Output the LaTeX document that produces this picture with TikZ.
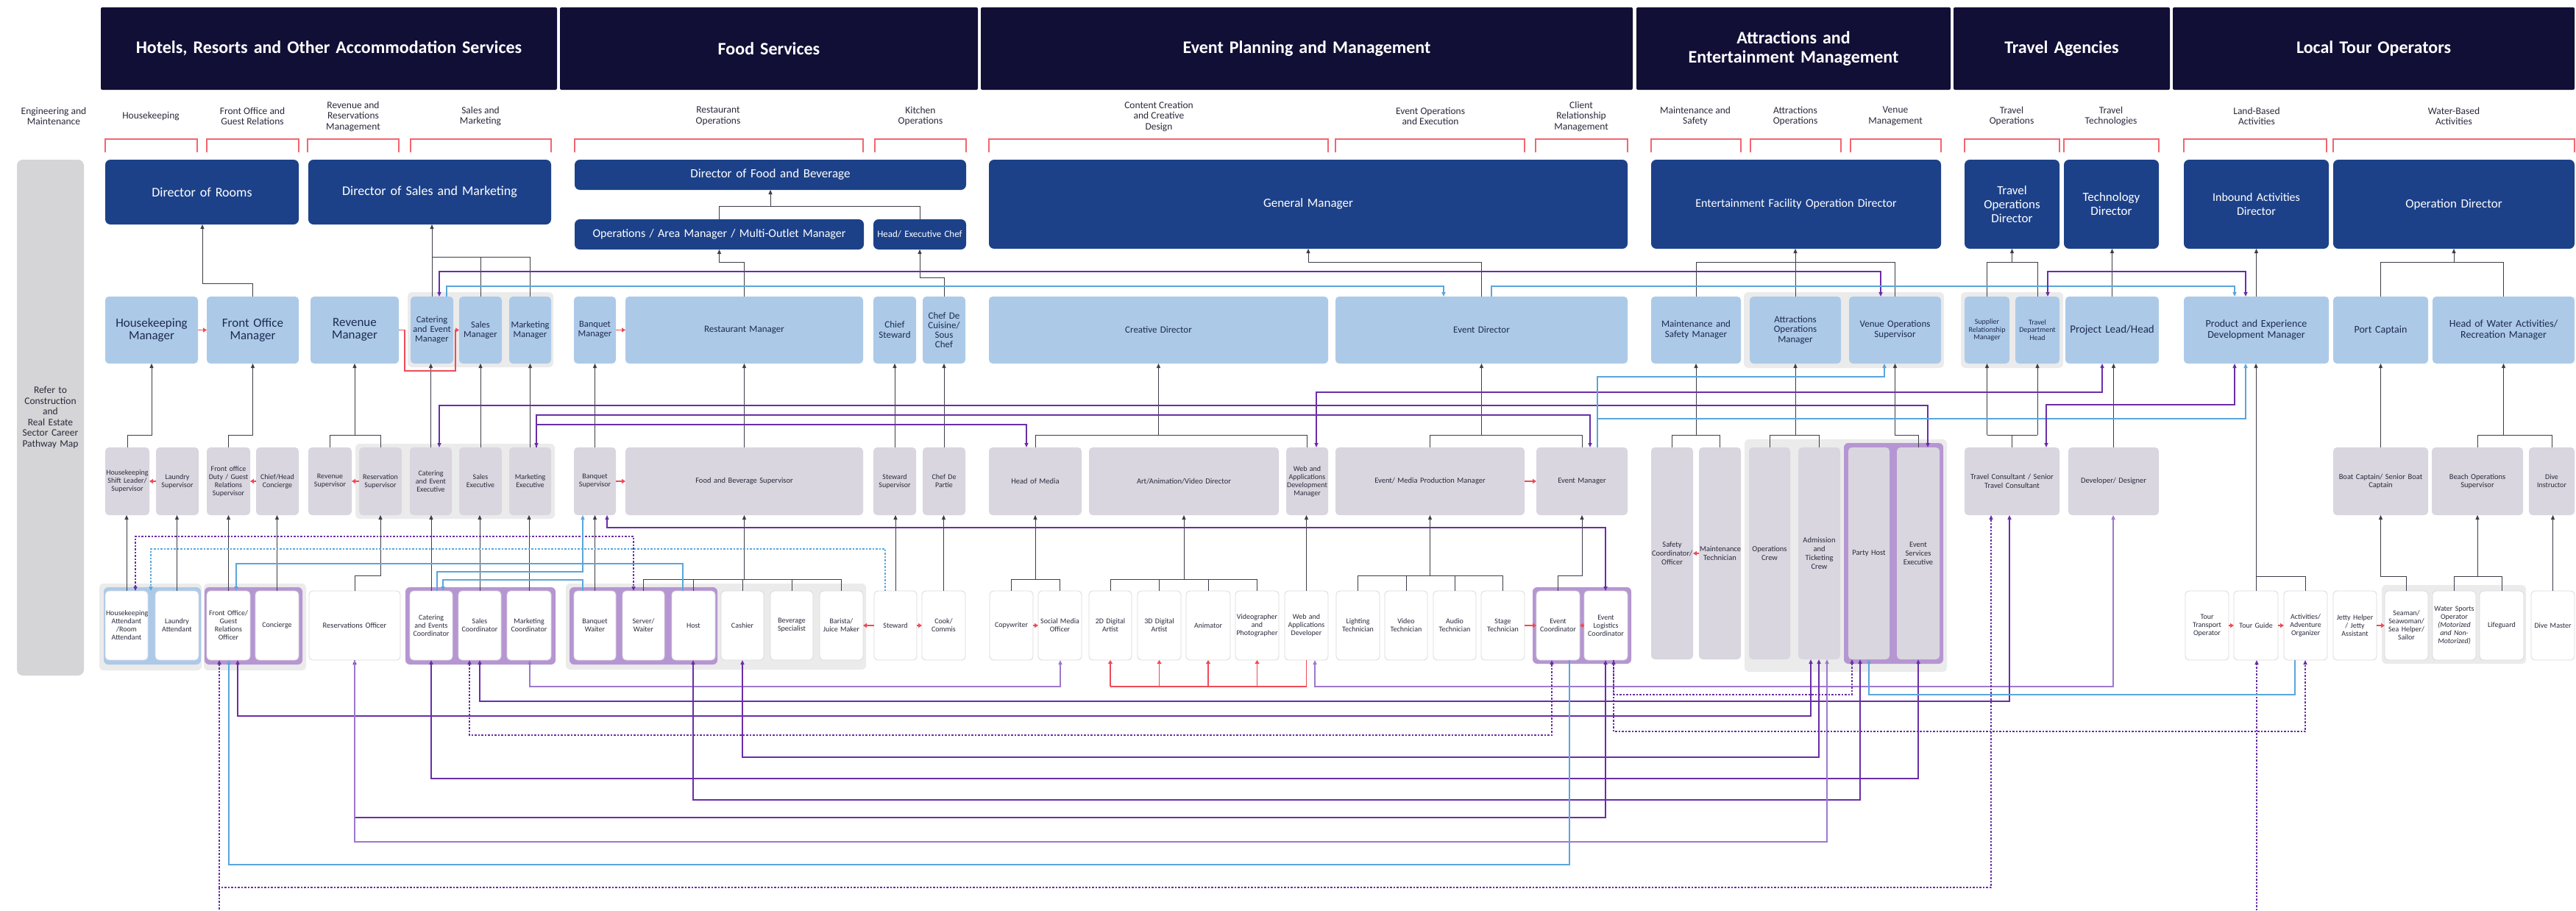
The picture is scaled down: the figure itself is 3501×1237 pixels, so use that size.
\documentclass[tikz,border=0pt]{standalone}
\usepackage{fontspec}
\setmainfont{Carlito}
\usetikzlibrary{arrows.meta}
\definecolor{hdr}{HTML}{110F36}
\definecolor{dirc}{HTML}{1C4189}
\definecolor{mgrc}{HTML}{ACCAE8}
\definecolor{supc}{HTML}{D9D6DF}
\definecolor{grpc}{HTML}{EBEBEB}
\definecolor{purg}{HTML}{B696D2}
\definecolor{barc}{HTML}{D5D5D7}
\definecolor{stfb}{HTML}{D8D8DC}
\definecolor{mtxt}{HTML}{1E2A52}
\definecolor{stxt}{HTML}{2A2A3C}
\definecolor{dkc}{HTML}{3D3D47}
\definecolor{puc}{HTML}{6A2EA8}
\definecolor{plc}{HTML}{9E78CC}
\definecolor{buc}{HTML}{5AA6DC}
\definecolor{rdc}{HTML}{EE4B57}
\newcommand\fs[2]{\fontsize{#1}{#2}\selectfont}
\newcommand\BX[7]{%
 \pgfmathsetmacro\bxw{#5-#3}%
 \pgfmathsetmacro\bxh{#6-#4}%
 \pgfmathsetmacro\bxtw{#5-#3-2}%
 \pgfmathsetmacro\bxcx{(#3+#5)/2}%
 \pgfmathsetmacro\bxcy{(#4+#6)/2}%
 \node[#1, minimum width=\bxw pt, minimum height=\bxh pt, text width=\bxtw pt] (#2) at (\bxcx,\bxcy) {#7};}
\tikzset{
 bx/.style={rounded corners=5pt, inner sep=1pt, align=center, outer sep=0pt},
 hd/.style={bx, rounded corners=2pt, fill=hdr, text=white, font={\bfseries\fs{24}{26}}},
 dir/.style={bx, rounded corners=7pt, fill=dirc, text=white},
 mgr/.style={bx, fill=mgrc, text=mtxt},
 sup/.style={bx, fill=supc, text=stxt, font={\fs{10}{11}}},
 stf/.style={bx, fill=white, draw=stfb, line width=0.8pt, text=stxt, font={\fs{10}{11}}},
 bar/.style={bx, rounded corners=8pt, fill=barc, text=stxt, font={\fs{13.5}{14.5}}},
 cat/.style={align=center, text=stxt, font={\fs{13.5}{14.5}}, inner sep=1pt},
 brk/.style={draw=rdc!85, line width=1.2pt},
 >={Triangle[length=6pt,width=5pt]},
 dk/.style={draw=dkc, line width=1pt},
 pu/.style={draw=puc, line width=1.4pt},
 pl/.style={draw=plc, line width=1.4pt},
 bu/.style={draw=buc, line width=1.4pt},
 pd/.style={draw=puc, line width=1.3pt, dash pattern=on 2.5pt off 2pt},
 bd/.style={draw=buc, line width=1.3pt, dash pattern=on 2.5pt off 2pt},
 rd/.style={draw=rdc, line width=1.3pt, >={Triangle[length=5pt,width=6pt]}},
}
\begin{document}
\begin{tikzpicture}[x=1pt,y=-1pt]
\useasboundingbox (0,0) rectangle (3501,1237);
\fill[white] (0,0) rectangle (3501,1237);
% headers
\BX{hd}{h1}{137}{10}{757}{122}{Hotels, Resorts and Other Accommodation Services}
\BX{hd}{h2}{761}{10}{1329}{122}{Food Services}
\BX{hd}{h3}{1333}{10}{2219}{122}{Event Planning and Management}
\BX{hd}{h4}{2224}{10}{2651}{122}{Attractions and\\Entertainment Management}
\BX{hd}{h5}{2655}{10}{2949}{122}{Travel Agencies}
\BX{hd}{h6}{2953}{10}{3499}{122}{Local Tour Operators}
% category labels
\node[cat] (c1) at (73,158) {Engineering and\\Maintenance};
\node[cat] (c2) at (205,158) {Housekeeping};
\node[cat] (c3) at (343,158) {Front Office and\\Guest Relations};
\node[cat] (c4) at (480,158) {Revenue and\\Reservations\\Management};
\node[cat] (c5) at (653,158) {Sales and\\Marketing};
\node[cat] (c6) at (976,158) {Restaurant\\Operations};
\node[cat] (c7) at (1251,158) {Kitchen\\Operations};
\node[cat] (c8) at (1575,158) {Content Creation\\and Creative\\Design};
\node[cat] (c9) at (1944,158) {Event Operations\\and Execution};
\node[cat] (c10) at (2149,158) {Client\\Relationship\\Management};
\node[cat] (c11) at (2304,158) {Maintenance and\\Safety};
\node[cat] (c12) at (2440,158) {Attractions\\Operations};
\node[cat] (c13) at (2576,158) {Venue\\Management};
\node[cat] (c14) at (2734,158) {Travel\\Operations};
\node[cat] (c15) at (2869,158) {Travel\\Technologies};
\node[cat] (c16) at (3067,158) {Land-Based\\Activities};
\node[cat] (c17) at (3335,158) {Water-Based\\Activities};
% brackets
\foreach \a/\b in {143/268, 281/406, 418/542, 558/749, 781/1173, 1189/1313, 1344/1805, 1815/2072, 2087/2212, 2244/2366, 2379/2502, 2515/2638, 2670/2799, 2805/2934, 2968/3162, 3171/3499}
  \draw[brk] (\a,207) |- (\b,189) -- (\b,207);
% group backgrounds
\fill[grpc, rounded corners=6pt] (554,397) rectangle (752,499);
\fill[grpc, rounded corners=6pt] (2370,397) rectangle (2642,500);
\fill[grpc, rounded corners=6pt] (2665,397) rectangle (2804,500);
\fill[grpc, rounded corners=6pt] (483,603) rectangle (754,705);
\fill[grpc, rounded corners=6pt] (2371,597) rectangle (2646,913);
\fill[purg, rounded corners=6pt] (2506,602) rectangle (2641,902);
\fill[grpc, rounded corners=6pt] (135,793) rectangle (274,911);
\fill[mgrc, rounded corners=6pt] (141,798) rectangle (273,903);
\fill[grpc, rounded corners=6pt] (277,793) rectangle (416,911);
\fill[purg, rounded corners=6pt] (278,798) rectangle (411,903);
\fill[purg, rounded corners=6pt] (551,798) rectangle (755,903);
\fill[grpc, rounded corners=6pt] (769,793) rectangle (1177,910);
\fill[purg, rounded corners=6pt] (774,798) rectangle (975,903);
\fill[purg, rounded corners=6pt] (2083,798) rectangle (2217,902);
\fill[grpc, rounded corners=6pt] (3237,795) rectangle (3433,902);
% left bar
\BX{bar}{refer}{23}{217}{114}{918}{Refer to\\Construction\\and\\Real Estate\\Sector Career\\Pathway Map}
% directors
\BX{dir,font={\fs{18}{21}}}{dRooms}{143}{217}{406}{305}{Director of Rooms}
\BX{dir,font={\fs{18}{21}}}{dSales}{419}{217}{749}{305}{Director of Sales and Marketing}
\BX{dir,font={\fs{17}{20}}}{dFB}{781}{217}{1313}{258}{Director of Food and Beverage}
\BX{dir,font={\fs{16}{19}}}{dOps}{781}{298}{1174}{339}{Operations / Area Manager / Multi-Outlet Manager}
\BX{dir,font={\fs{13}{15}}}{dChef}{1187}{298}{1313}{339}{Head/ Executive Chef}
\BX{dir,font={\fs{17}{20}}}{dGM}{1344}{217}{2212}{338}{General Manager}
\BX{dir,font={\fs{16}{19}}}{dEnt}{2244}{217}{2638}{338}{Entertainment Facility Operation Director}
\BX{dir,font={\fs{17}{19}}}{dTravel}{2670}{217}{2799}{338}{Travel\\Operations\\Director}
\BX{dir,font={\fs{17}{19}}}{dTech}{2805}{217}{2934}{338}{Technology\\Director}
\BX{dir,font={\fs{16}{19}}}{dInb}{2968}{217}{3165}{338}{Inbound Activities\\Director}
\BX{dir,font={\fs{17}{19}}}{dOpd}{3171}{217}{3499}{338}{Operation Director}
% managers
\BX{mgr,font={\fs{17}{17}}}{mHK}{143}{403}{269}{494}{Housekeeping\\Manager}
\BX{mgr,font={\fs{17}{17}}}{mFO}{281}{403}{406}{494}{Front Office\\Manager}
\BX{mgr,font={\fs{17}{17}}}{mRev}{422}{403}{542}{494}{Revenue\\Manager}
\BX{mgr,font={\fs{12.5}{13}}}{mCat}{558}{403}{616}{494}{Catering\\and Event\\Manager}
\BX{mgr,font={\fs{12.5}{13}}}{mSal}{624}{403}{682}{494}{Sales\\Manager}
\BX{mgr,font={\fs{12.5}{13}}}{mMkt}{692}{403}{749}{494}{Marketing\\Manager}
\BX{mgr,font={\fs{12.5}{13}}}{mBq}{780}{403}{837}{494}{Banquet\\Manager}
\BX{mgr,font={\fs{13}{14}}}{mRest}{850}{403}{1173}{494}{Restaurant Manager}
\BX{mgr,font={\fs{13}{14}}}{mCS}{1187}{403}{1245}{494}{Chief\\Steward}
\BX{mgr,font={\fs{13}{13}}}{mCDC}{1254}{403}{1312}{494}{Chef De\\Cuisine/\\Sous\\Chef}
\BX{mgr,font={\fs{13}{14}}}{mCreat}{1344}{403}{1805}{494}{Creative Director}
\BX{mgr,font={\fs{13}{14}}}{mEvD}{1815}{403}{2212}{494}{Event Director}
\BX{mgr,font={\fs{13}{14}}}{mMS}{2244}{403}{2366}{494}{Maintenance and\\Safety Manager}
\BX{mgr,font={\fs{13}{13.5}}}{mAtt}{2378}{403}{2502}{494}{Attractions\\Operations\\Manager}
\BX{mgr,font={\fs{13}{14}}}{mVen}{2513}{403}{2638}{494}{Venue Operations\\Supervisor}
\BX{mgr,font={\fs{10}{10.5}}}{mSup}{2670}{403}{2731}{494}{Supplier\\Relationship\\Manager}
\BX{mgr,font={\fs{10}{10.5}}}{mTDH}{2739}{403}{2799}{494}{Travel\\Department\\Head}
\BX{mgr,font={\fs{15}{16}}}{mPL}{2807}{403}{2934}{494}{Project Lead/Head}
\BX{mgr,font={\fs{14}{15}}}{mPED}{2968}{403}{3165}{494}{Product and Experience\\Development Manager}
\BX{mgr,font={\fs{14}{15}}}{mPort}{3171}{403}{3300}{494}{Port Captain}
\BX{mgr,font={\fs{14}{15}}}{mWat}{3306}{403}{3499}{494}{Head of Water Activities/\\Recreation Manager}
% supervisors
\BX{sup}{sHK}{143}{608}{203}{700}{Housekeeping\\Shift Leader/\\Supervisor}
\BX{sup}{sLau}{212}{608}{270}{700}{Laundry\\Supervisor}
\BX{sup}{sFO}{281}{608}{340}{700}{Front office\\Duty / Guest\\Relations\\Supervisor}
\BX{sup}{sCon}{348}{608}{406}{700}{Chief/Head\\Concierge}
\BX{sup}{sRev}{419}{608}{478}{700}{Revenue\\Supervisor}
\BX{sup}{sRes}{488}{608}{546}{700}{Reservation\\Supervisor}
\BX{sup}{sCat}{557}{608}{614}{700}{Catering\\and Event\\Executive}
\BX{sup}{sSal}{624}{608}{682}{700}{Sales\\Executive}
\BX{sup}{sMkt}{692}{608}{749}{700}{Marketing\\Executive}
\BX{sup}{sBq}{780}{608}{837}{700}{Banquet\\Supervisor}
\BX{sup,font={\fs{10.5}{11.5}}}{sFB}{850}{608}{1173}{700}{Food and Beverage Supervisor}
\BX{sup}{sStw}{1187}{608}{1245}{700}{Steward\\Supervisor}
\BX{sup}{sCDP}{1254}{608}{1312}{700}{Chef De\\Partie}
\BX{sup,font={\fs{10.5}{11.5}}}{sMed}{1344}{608}{1470}{700}{Head of Media}
\BX{sup,font={\fs{10.5}{11.5}}}{sArt}{1480}{608}{1738}{700}{Art/Animation/Video Director}
\BX{sup}{sWeb}{1748}{608}{1805}{700}{Web and\\Applications\\Development\\Manager}
\BX{sup,font={\fs{10.5}{11.5}}}{sEMP}{1815}{608}{2072}{700}{Event/ Media Production Manager}
\BX{sup,font={\fs{10.5}{11.5}}}{sEvM}{2088}{608}{2212}{700}{Event Manager}
\BX{sup,font={\fs{10.5}{12}}}{sSaf}{2244}{608}{2301}{896}{Safety\\Coordinator/\\Officer}
\BX{sup,font={\fs{10.5}{12}}}{sMT}{2309}{608}{2366}{896}{Maintenance\\Technician}
\BX{sup,font={\fs{10.5}{12}}}{sOC}{2377}{608}{2433}{896}{Operations\\Crew}
\BX{sup,font={\fs{10.5}{12}}}{sAdm}{2444}{608}{2501}{896}{Admission\\and\\Ticketing\\Crew}
\BX{sup,font={\fs{10.5}{12}}}{sPH}{2512}{608}{2568}{896}{Party Host}
\BX{sup,font={\fs{10.5}{12}}}{sES}{2578}{608}{2636}{896}{Event\\Services\\Executive}
\BX{sup,font={\fs{10.5}{11.5}}}{sTC}{2670}{608}{2799}{700}{Travel Consultant / Senior\\Travel Consultant}
\BX{sup,font={\fs{10.5}{11.5}}}{sDev}{2811}{608}{2934}{700}{Developer/ Designer}
\BX{sup,font={\fs{10.5}{11.5}}}{sBoat}{3171}{608}{3300}{700}{Boat Captain/ Senior Boat\\Captain}
\BX{sup,font={\fs{10.5}{11.5}}}{sBeach}{3305}{608}{3429}{700}{Beach Operations\\Supervisor}
\BX{sup}{sDive}{3437}{608}{3499}{700}{Dive\\Instructor}
% staff
\BX{stf}{tHK}{143}{803}{201}{897}{Housekeeping\\Attendant\\/Room\\Attendant}
\BX{stf}{tLau}{211}{803}{270}{897}{Laundry\\Attendant}
\BX{stf}{tFO}{281}{803}{340}{897}{Front Office/\\Guest\\Relations\\Officer}
\BX{stf}{tCon}{347}{803}{406}{897}{Concierge}
\BX{stf,font={\fs{10.5}{11.5}}}{tRes}{420}{803}{544}{897}{Reservations Officer}
\BX{stf}{tCat}{557}{803}{615}{897}{Catering\\and Events\\Coordinator}
\BX{stf}{tSal}{623}{803}{681}{897}{Sales\\Coordinator}
\BX{stf}{tMkt}{689}{803}{749}{897}{Marketing\\Coordinator}
\BX{stf}{tBq}{780}{803}{837}{897}{Banquet\\Waiter}
\BX{stf}{tSrv}{846}{803}{903}{897}{Server/\\Waiter}
\BX{stf}{tHost}{913}{803}{972}{897}{Host}
\BX{stf}{tCash}{980}{803}{1038}{897}{Cashier}
\BX{stf}{tBev}{1047}{803}{1105}{897}{Beverage\\Specialist}
\BX{stf}{tBar}{1114}{803}{1173}{897}{Barista/\\Juice Maker}
\BX{stf}{tStw}{1188}{803}{1246}{897}{Steward}
\BX{stf}{tCook}{1253}{803}{1312}{897}{Cook/\\Commis}
\BX{stf}{tCopy}{1345}{803}{1404}{897}{Copywriter}
\BX{stf}{tSoc}{1411}{803}{1470}{897}{Social Media\\Officer}
\BX{stf}{t2D}{1480}{803}{1538}{897}{2D Digital\\Artist}
\BX{stf}{t3D}{1546}{803}{1605}{897}{3D Digital\\Artist}
\BX{stf}{tAnim}{1612}{803}{1672}{897}{Animator}
\BX{stf}{tVid}{1679}{803}{1738}{897}{Videographer\\and\\Photographer}
\BX{stf}{tWeb}{1746}{803}{1805}{897}{Web and\\Applications\\Developer}
\BX{stf}{tLight}{1816}{803}{1875}{897}{Lighting\\Technician}
\BX{stf}{tVidT}{1882}{803}{1940}{897}{Video\\Technician}
\BX{stf}{tAud}{1948}{803}{2006}{897}{Audio\\Technician}
\BX{stf}{tStage}{2013}{803}{2072}{897}{Stage\\Technician}
\BX{stf}{tEC}{2088}{803}{2147}{897}{Event\\Coordinator}
\BX{stf}{tELC}{2153}{803}{2212}{897}{Event\\Logistics\\Coordinator}
\BX{stf}{tTT}{2970}{803}{3029}{897}{Tour\\Transport\\Operator}
\BX{stf}{tTG}{3036}{803}{3096}{897}{Tour Guide}
\BX{stf}{tAct}{3104}{803}{3163}{897}{Activities/\\Adventure\\Organizer}
\BX{stf}{tJet}{3171}{803}{3230}{897}{Jetty Helper\\/ Jetty\\Assistant}
\BX{stf}{tSea}{3241}{803}{3300}{897}{Seaman/\\Seawoman/\\Sea Helper/\\Sailor}
\BX{stf}{tWS}{3306}{803}{3365}{897}{Water Sports\\Operator\\\textit{(Motorized}\\\textit{and Non-}\\\textit{Motorized)}}
\BX{stf}{tLife}{3370}{803}{3430}{897}{Lifeguard}
\BX{stf}{tDM}{3440}{803}{3499}{897}{Dive Master}
\coordinate (botL) at (298,1237);
\coordinate (botR) at (3067,1237);
% ---- dark connectors: managers -> directors
\draw[dk,->] (mFO.north) |- (275,385) -- (275,0 |- dRooms.south);
\draw[dk] (mSal.north) |- (mCat.north |- 0,349);
\draw[dk] (mMkt.north) |- (mSal.north |- 0,349);
\draw[dk,->] (mCat.north) -- (mCat.north |- dSales.south);
\draw[dk] (dOps.north) |- (dChef.north |- 0,280) -- (dChef.north);
\draw[dk,->] (dFB.south |- 0,280) -- (dFB.south);
\draw[dk,->] (mRest.north) |- (dOps.south |- 0,356) -- (dOps.south);
\draw[dk,->] (mCDC.north) |- (dChef.south |- 0,377) -- (dChef.south);
\draw[dk,->] (mEvD.north) |- (1778,356) -- (1778,0 |- dGM.south);
\draw[dk] (mMS.north) |- (mVen.north |- 0,356) -- (mVen.north);
\draw[dk,->] (mAtt.north) -- (mAtt.north |- dEnt.south);
\draw[dk] (mSup.north) |- (mTDH.north |- 0,356) -- (mTDH.north);
\draw[dk,->] (dTravel.south |- 0,356) -- (dTravel.south);
\draw[dk,->] (mPL.north) -- (mPL.north |- dTech.south);
\draw[dk,->] (mPED.north) -- (mPED.north |- dInb.south);
\draw[dk] (mPort.north) |- (mWat.north |- 0,356) -- (mWat.north);
\draw[dk,->] (dOpd.south |- 0,356) -- (dOpd.south);
% supervisors -> managers
\draw[dk,->] (sHK.north) |- (mHK.south |- 0,591) -- (mHK.south);
\draw[dk,->] (sFO.north) |- (mFO.south |- 0,591) -- (mFO.south);
\draw[dk] (sRev.north) |- (sRes.north |- 0,591) -- (sRes.north);
\draw[dk,->] (mRev.south |- 0,591) -- (mRev.south);
\draw[dk,->] (sCat.north) -- (sCat.north |- mCat.south);
\draw[dk,->] (sSal.north) -- (sSal.north |- mSal.south);
\draw[dk,->] (sMkt.north) -- (sMkt.north |- mMkt.south);
\draw[dk,->] (sBq.north) -- (sBq.north |- mBq.south);
\draw[dk,->] (sFB.north) -- (sFB.north |- mRest.south);
\draw[dk,->] (sStw.north) -- (sStw.north |- mCS.south);
\draw[dk,->] (sCDP.north) -- (sCDP.north |- mCDC.south);
\draw[dk] (sMed.north) |- (sWeb.north |- 0,591) -- (sWeb.north);
\draw[dk,->] (mCreat.south |- 0,591) -- (mCreat.south);
\draw[dk] (sEMP.north) |- (sEvM.north |- 0,591) -- (sEvM.north);
\draw[dk,->] (mEvD.south |- 0,591) -- (mEvD.south);
\draw[dk] (sSaf.north) |- (sMT.north |- 0,591) -- (sMT.north);
\draw[dk,->] (mMS.south |- 0,591) -- (mMS.south);
\draw[dk] (sOC.north) |- (sAdm.north |- 0,591) -- (sAdm.north);
\draw[dk,->] (mAtt.south |- 0,591) -- (mAtt.south);
\draw[dk,->] (sES.north) |- (mVen.south |- 0,591) -- (mVen.south);
\draw[dk] (sTC.north) -- (sTC.north |- 0,591);
\draw[dk] (mSup.south |- 0,591) -- (mTDH.south |- 0,591);
\draw[dk,->] (mSup.south |- 0,591) -- (mSup.south);
\draw[dk,->] (mTDH.south |- 0,591) -- (mTDH.south);
\draw[dk,->] (sDev.north) -- (sDev.north |- mPL.south);
\draw[dk,->] (sBoat.north) -- (sBoat.north |- mPort.south);
\draw[dk] (sBeach.north) |- (sDive.north |- 0,591) -- (sDive.north);
\draw[dk,->] (mWat.south |- 0,591) -- (mWat.south);
% staff -> supervisors
\foreach \a/\b in {tHK/sHK, tLau/sLau, tFO/sFO, tCon/sCon, tCat/sCat, tSal/sSal, tMkt/sMkt, tBq/sBq, tStw/sStw, tCook/sCDP, tWeb/sWeb, tDM/sDive}
  \draw[dk,->] (\a.north) -- (\a.north |- \b.south);
\draw[dk,->] (tRes.north) |- (sRes.south |- 0,782) -- (sRes.south);
\draw[dk] (tSrv.north) |- (tBar.north |- 0,787) -- (tBar.north);
\foreach \a in {tHost,tCash,tBev} \draw[dk] (\a.north) -- (\a.north |- 0,787);
\draw[dk,->] (sFB.south |- 0,787) -- (sFB.south);
\draw[dk] (tCopy.north) |- (tSoc.north |- 0,787) -- (tSoc.north);
\draw[dk,->] (sMed.south |- 0,787) -- (sMed.south);
\draw[dk] (t2D.north) |- (tVid.north |- 0,787) -- (tVid.north);
\foreach \a in {t3D,tAnim} \draw[dk] (\a.north) -- (\a.north |- 0,787);
\draw[dk,->] (sArt.south |- 0,787) -- (sArt.south);
\draw[dk] (tLight.north) |- (tStage.north |- 0,782) -- (tStage.north);
\foreach \a in {tVidT,tAud} \draw[dk] (\a.north) -- (\a.north |- 0,782);
\draw[dk,->] (sEMP.south |- 0,782) -- (sEMP.south);
\draw[dk,->] (tEC.north) |- (sEvM.south |- 0,782) -- (sEvM.south);
\draw[dk] (tAct.north) |- (tTG.north |- 0,783);
\draw[dk,->] (tTG.north) -- (tTG.north |- mPED.south);
\draw[dk,->] (tSea.north) |- (sBoat.south |- 0,783) -- (sBoat.south);
\draw[dk] (tWS.north) |- (tLife.north |- 0,783) -- (tLife.north);
\draw[dk,->] (sBeach.south |- 0,783) -- (sBeach.south);
% red lateral arrows
\draw[rd,->] (mHK.east) -- (mFO.west);
\draw[rd,->] (mRev.east) -- (550,0 |- mRev.east) -- (550,504) -- (619,504) -- (619,0 |- mSal.west) -- (mSal.west);
\draw[rd,->] (mBq.east) -- (mRest.west);
\draw[rd,->] (sLau.west) -- (sHK.east);
\draw[rd,->] (sCon.west) -- (sFO.east);
\draw[rd,->] (sRes.west) -- (sRev.east);
\draw[rd,->] (sBq.east) -- (sFB.west);
\draw[rd,->] (sEMP.east) -- (sEvM.west);
\draw[rd,->] (sMT.west) -- (sSaf.east);
\draw[rd,->] (tStw.west) -- (tBar.east);
\draw[rd,->] (tStw.east) -- (tCook.west);
\draw[rd,->] (tCopy.east) -- (tSoc.west);
\draw[rd,->] (tStage.east) -- (tEC.west);
\draw[rd,->] (tELC.west) -- (tEC.east);
\draw[rd,->] (tTT.east) -- (tTG.west);
\draw[rd,->] (tTG.east) -- (tAct.west);
\draw[rd,->] (tJet.east) -- (tSea.west);
\draw[rd] (tWeb.south) -- (tWeb.south |- 0,933) -- (t2D.south |- 0,933);
\foreach \a in {t2D,t3D,tAnim,tVid} \draw[rd,->] (\a.south |- 0,933) -- (\a.south);
% purple and blue links, top band
\draw[pu,<->] (597,0 |- mCat.north) |- (2556,369) -- (2556,0 |- mVen.north);
\draw[bu,->] (607,0 |- mCat.north) |- (1962,389) -- (1962,0 |- mEvD.north);
\draw[bu,->] (2027,0 |- mEvD.north) |- (3037,389) -- (3037,0 |- mPED.north);
\draw[pu,<->] (2783,0 |- mTDH.north) |- (3052,369) -- (3052,0 |- mPED.north);
% manager/supervisor band
\draw[pu,<->] (597,0 |- sCat.north) |- (2620,551) -- (2620,0 |- sES.north);
\draw[pu,<->] (1789,0 |- sWeb.north) |- (2857,533) -- (2857,0 |- mPL.south);
\draw[pu,<->] (729,0 |- sMkt.north) |- (2161,564) -- (2161,0 |- sEvM.north);
\draw[pu,->] (729,0 |- sMkt.north) |- (1395,577) -- (1395,0 |- sMed.north);
\draw[bu,->] (2171,0 |- sEvM.north) |- (2561,512) -- (2561,0 |- mVen.south);
\draw[bu,->] (2171,0 |- sEvM.north) |- (3052,569) -- (3052,0 |- mPED.south);
\draw[pu,<->] (2781,0 |- sTC.north) |- (3037,550) -- (3037,0 |- mPED.south);
% supervisor/staff band
\draw[pu,<->] (825,0 |- sBq.south) |- (2182,717) -- (2182,0 |- tELC.north);
\draw[pd,<->] (184,0 |- tHK.north) |- (861,729) -- (861,0 |- tSrv.north);
\draw[bd,->] (1203,0 |- tStw.north) |- (205,746) -- (205,0 |- tHK.north);
\draw[bu,->] (928,0 |- tHost.north) |- (321,766) -- (321,0 |- tFO.north);
\draw[bu,->] (594,0 |- tCat.north) |- (792,777) -- (792,0 |- sBq.south);
\draw[bu,->] (792,0 |- tBq.north) |- (602,788) -- (602,0 |- tCat.north);
% bottom band
\draw[pl,<->] (720,0 |- tMkt.south) |- (1441,933) -- (1441,0 |- tSoc.south);
\draw[pl,<->] (1787,0 |- tWeb.south) |- (2872,933) -- (2872,0 |- sDev.south);
\draw[pu,<->] (652,0 |- tSal.south) |- (2731,953) -- (2731,0 |- sTC.south);
\draw[pu,<->] (323,0 |- tFO.south) |- (2461,973) -- (2461,0 |- sAdm.south);
\draw[pd,<->] (638,0 |- tSal.south) |- (2109,999) -- (2109,0 |- tEC.south);
\draw[pu,<->] (tCash.south) |- (2472,1029) -- (2472,0 |- sAdm.south);
\draw[pu,<->] (586,0 |- tCat.south) |- (2607,1058) -- (2607,0 |- sES.south);
\draw[pu,<->] (942,0 |- tHost.south) |- (2528,1087) -- (2528,0 |- sPH.south);
\draw[pu,<->] (tRes.south) |- (2182,1111) -- (2182,0 |- tELC.south);
\draw[pl,->] (tRes.south) |- (2483,1144) -- (2483,0 |- sAdm.south);
\draw[bu,->] (2133,0 |- tEC.south) |- (311,1175) -- (311,0 |- tFO.south);
\draw[pd,<->] (298,0 |- tFO.south) |- (2706,1206) -- (2706,0 |- sTC.south);
\draw[pd] (298,1206) -- (botL);
\draw[pd,->] (botR) -- (3067,0 |- tTG.south);
\draw[pd,<->] (2193,0 |- tELC.south) |- (2517,944) -- (2517,0 |- sPH.south);
\draw[pd,->] (2193,0 |- tELC.south) |- (3133,994) -- (3133,0 |- tAct.south);
\draw[bu,->] (3119,0 |- tAct.south) |- (2540,944) -- (2540,0 |- sPH.south);
\end{tikzpicture}
\end{document}
